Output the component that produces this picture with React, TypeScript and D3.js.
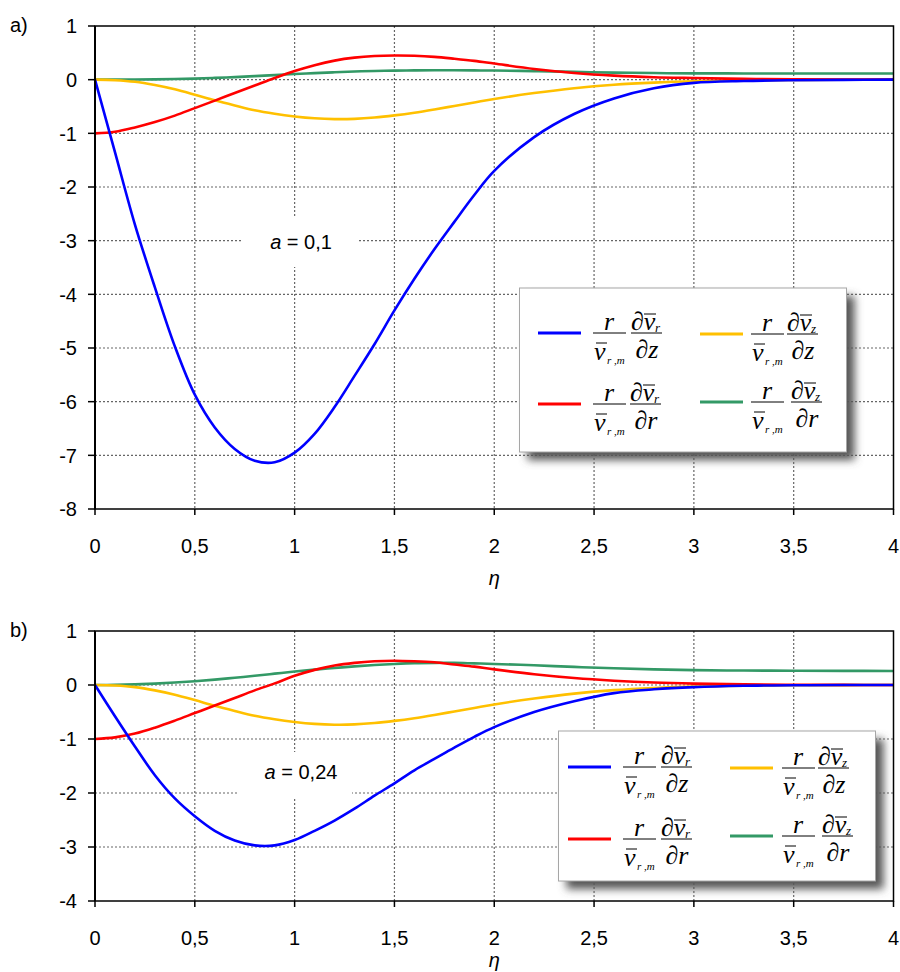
import React from 'react';
import * as d3 from 'd3';

// η sampling points shared by all curves
const ETA = [0, 0.1, 0.2, 0.3, 0.4, 0.5, 0.6, 0.7, 0.8, 0.9, 1.0, 1.1, 1.2, 1.3, 1.4, 1.5, 1.6, 1.7, 1.8, 1.9, 2.0,
  2.2, 2.4, 2.6, 2.8, 3.0, 3.25, 3.5, 3.75, 4.0];

// panel a) a = 0,1
const blueA = [0, -1.35, -2.7, -3.87, -4.97, -5.87, -6.48, -6.88, -7.1, -7.13, -6.95, -6.6, -6.1, -5.52, -4.93, -4.3,
  -3.71, -3.16, -2.65, -2.15, -1.7, -1.07, -0.64, -0.35, -0.16, -0.06, -0.025, -0.01, -0.003, 0];
const redA = [-1, -0.97, -0.89, -0.79, -0.67, -0.53, -0.39, -0.25, -0.11, 0.03, 0.16, 0.27, 0.355, 0.41, 0.44, 0.45,
  0.445, 0.425, 0.39, 0.35, 0.3, 0.2, 0.125, 0.075, 0.045, 0.03, 0.015, 0.008, 0.003, 0];
const yellowA = [0, -0.01, -0.04, -0.1, -0.18, -0.28, -0.385, -0.48, -0.57, -0.635, -0.685, -0.72, -0.735, -0.73, -0.705,
  -0.665, -0.615, -0.555, -0.49, -0.425, -0.36, -0.25, -0.16, -0.095, -0.055, -0.03, -0.015, -0.006, -0.002, 0];
const greenA = [0, 0, 0.002, 0.006, 0.012, 0.02, 0.033, 0.048, 0.066, 0.085, 0.105, 0.122, 0.138, 0.152, 0.162, 0.169,
  0.173, 0.175, 0.175, 0.173, 0.17, 0.16, 0.145, 0.132, 0.123, 0.118, 0.116, 0.115, 0.115, 0.115];

// panel b) a = 0,24
const blueB = [0, -0.58, -1.14, -1.67, -2.1, -2.43, -2.7, -2.88, -2.97, -2.97, -2.87, -2.7, -2.51, -2.29, -2.05, -1.82,
  -1.58, -1.37, -1.16, -0.96, -0.78, -0.5, -0.3, -0.15, -0.08, -0.04, -0.015, -0.005, -0.001, 0];
const redB = [-1, -0.97, -0.9, -0.79, -0.66, -0.52, -0.38, -0.24, -0.1, 0.03, 0.17, 0.28, 0.36, 0.41, 0.44, 0.45,
  0.44, 0.42, 0.38, 0.34, 0.29, 0.2, 0.13, 0.08, 0.045, 0.025, 0.012, 0.005, 0.002, 0];
const yellowB = [0, -0.01, -0.04, -0.1, -0.18, -0.28, -0.385, -0.48, -0.57, -0.635, -0.685, -0.72, -0.735, -0.73, -0.705,
  -0.665, -0.615, -0.555, -0.49, -0.425, -0.36, -0.25, -0.16, -0.095, -0.055, -0.03, -0.015, -0.006, -0.002, 0];
const greenB = [0, 0.003, 0.012, 0.025, 0.045, 0.07, 0.1, 0.135, 0.17, 0.21, 0.25, 0.285, 0.315, 0.345, 0.37, 0.39,
  0.405, 0.41, 0.41, 0.4, 0.39, 0.365, 0.335, 0.31, 0.29, 0.275, 0.268, 0.264, 0.262, 0.26];

const X_TICKS = [0, 0.5, 1, 1.5, 2, 2.5, 3, 3.5, 4];
const COLORS = { blue: '#0000ff', red: '#ff0000', yellow: '#ffc000', green: '#339966' };

const SANS = 'Liberation Sans, Arial, sans-serif';
const SERIF = 'Liberation Serif, Times New Roman, serif';
const MATH = 26;

const fmt = (v: number) => String(v).replace('.', ',');

// r / v̄_{r,m}
const FracR = ({ x, y }: { x: number; y: number }) => (
  <g>
    <line x1={x} x2={x + 33} y1={y} y2={y} stroke="#000" strokeWidth={1} />
    <text x={x + 16} y={y - 3} fontFamily={SERIF} fontStyle="italic" fontSize={MATH} textAnchor="middle">r</text>
    <line x1={x + 3} x2={x + 14} y1={y + 10} y2={y + 10} stroke="#000" strokeWidth={1} />
    <text x={x + 1} y={y + 27} fontFamily={SERIF} fontStyle="italic" fontSize={MATH}>v</text>
    <text x={x + 14} y={y + 31} fontFamily={SERIF} fontStyle="italic" fontSize={11}>r ,m</text>
  </g>
);

// ∂v̄_comp / ∂den
const FracD = ({ x, y, comp, den }: { x: number; y: number; comp: string; den: string }) => (
  <g>
    <line x1={x} x2={x + 31} y1={y} y2={y} stroke="#000" strokeWidth={1} />
    <text x={x} y={y - 3} fontFamily={SERIF} fontStyle="italic" fontSize={MATH}>∂v</text>
    <line x1={x + 13} x2={x + 25} y1={y - 19} y2={y - 19} stroke="#000" strokeWidth={1} />
    <text x={x + 24} y={y - 1} fontFamily={SERIF} fontStyle="italic" fontSize={13}>{comp}</text>
    <text x={x + 16} y={y + 25} fontFamily={SERIF} fontStyle="italic" fontSize={MATH} textAnchor="middle">∂{den}</text>
  </g>
);

type Item = { color: string; lx: number; y: number; f1: number; f2: number; comp: string; den: string };

const Legend = ({ box, items }: { box: number[]; items: Item[] }) => (
  <g>
    <rect x={box[0] + 8} y={box[1] + 8} width={box[2]} height={box[3]} fill="#555" filter="url(#legShadow)" />
    <rect x={box[0]} y={box[1]} width={box[2]} height={box[3]} fill="#fff" stroke="#a6a6a6" strokeWidth={1} />
    {items.map((it, i) => (
      <g key={i}>
        <line x1={it.lx} x2={it.lx + 43} y1={it.y} y2={it.y} stroke={it.color} strokeWidth={3} />
        <FracR x={it.f1} y={it.y} />
        <FracD x={it.f2} y={it.y} comp={it.comp} den={it.den} />
      </g>
    ))}
  </g>
);

type PanelProps = {
  tag: string; top: number; bottom: number; yMin: number; etaY: number;
  series: { color: string; values: number[] }[];
  note: string; noteY: number; noteBox: number[];
  legendBox: number[]; legendItems: Item[];
};

const Panel = ({ tag, top, bottom, yMin, etaY, series, note, noteY, noteBox, legendBox, legendItems }: PanelProps) => {
  const x = d3.scaleLinear().domain([0, 4]).range([95, 893.5]);
  const y = d3.scaleLinear().domain([yMin, 1]).range([bottom, top]);
  const yTicks = d3.range(yMin, 2);
  const line = d3.line<number>().x((_, i) => x(ETA[i])).y(d => y(d)).curve(d3.curveCatmullRom.alpha(0.5));
  return (
    <g>
      <text x={10} y={top + 6} fontFamily={SANS} fontSize={20}>{tag}</text>
      {/* dotted grid */}
      {yTicks.filter(t => t > yMin && t < 1).map(t => (
        <line key={'h' + t} x1={x(0)} x2={x(4)} y1={y(t)} y2={y(t)} stroke="#666" strokeWidth={1.2} strokeDasharray="2 2" />
      ))}
      {X_TICKS.filter(t => t > 0 && t < 4).map(t => (
        <line key={'v' + t} x1={x(t)} x2={x(t)} y1={y(1)} y2={y(yMin)} stroke="#666" strokeWidth={1.2} strokeDasharray="2 2" />
      ))}
      <rect x={noteBox[0]} y={noteBox[1]} width={noteBox[2]} height={noteBox[3]} fill="#fff" />
      <text x={301} y={noteY} fontFamily={SANS} fontSize={20} textAnchor="middle">
        <tspan fontStyle="italic">a</tspan> = {note}
      </text>
      {series.map((s, i) => (
        <path key={i} d={line(s.values) || ''} fill="none" stroke={s.color} strokeWidth={2.6} />
      ))}
      {/* frame and axes */}
      <rect x={x(0)} y={y(1)} width={x(4) - x(0)} height={y(yMin) - y(1)} fill="none" stroke="#000" strokeWidth={1.5} />
      <line x1={x(0)} x2={x(0)} y1={y(1)} y2={y(yMin)} stroke="#000" strokeWidth={2} />
      {yTicks.map(t => (
        <g key={'yt' + t}>
          <line x1={x(0) - 7} x2={x(0)} y1={y(t)} y2={y(t)} stroke="#000" strokeWidth={1.5} />
          <text x={77} y={y(t)} dy="0.36em" fontFamily={SANS} fontSize={20} textAnchor="end">{fmt(t)}</text>
        </g>
      ))}
      {X_TICKS.map(t => (
        <g key={'xt' + t}>
          <line x1={x(t)} x2={x(t)} y1={y(yMin)} y2={y(yMin) + 6} stroke="#000" strokeWidth={1.5} />
          <text x={x(t)} y={y(yMin) + 44} fontFamily={SANS} fontSize={20} textAnchor="middle">{fmt(t)}</text>
        </g>
      ))}
      <text x={x(2)} y={etaY} fontFamily={SANS} fontStyle="italic" fontSize={20} textAnchor="middle">η</text>
      <Legend box={legendBox} items={legendItems} />
    </g>
  );
};

const itemsA: Item[] = [
  { color: COLORS.blue, lx: 538, y: 333, f1: 593, f2: 631, comp: 'r', den: 'z' },
  { color: COLORS.yellow, lx: 700, y: 334, f1: 751, f2: 787, comp: 'z', den: 'z' },
  { color: COLORS.red, lx: 538, y: 404, f1: 593, f2: 630, comp: 'r', den: 'r' },
  { color: COLORS.green, lx: 700, y: 402, f1: 751, f2: 791, comp: 'z', den: 'r' },
];
const itemsB: Item[] = [
  { color: COLORS.blue, lx: 568, y: 767, f1: 623, f2: 661, comp: 'r', den: 'z' },
  { color: COLORS.yellow, lx: 730, y: 768, f1: 782, f2: 818, comp: 'z', den: 'z' },
  { color: COLORS.red, lx: 568, y: 839, f1: 623, f2: 661, comp: 'r', den: 'r' },
  { color: COLORS.green, lx: 730, y: 836, f1: 782, f2: 822, comp: 'z', den: 'r' },
];

export default function App() {
  return (
    <div style={{ position: 'absolute', left: 0, top: 0 }}>
      <svg width={900} height={972} style={{ display: 'block', background: '#fff' }}>
        <defs>
          <filter id="legShadow" x="-20%" y="-20%" width="140%" height="140%">
            <feGaussianBlur stdDeviation="4" />
          </filter>
        </defs>
        <Panel
          tag="a)" top={26} bottom={509} yMin={-8} etaY={585}
          series={[
            { color: COLORS.green, values: greenA },
            { color: COLORS.yellow, values: yellowA },
            { color: COLORS.red, values: redA },
            { color: COLORS.blue, values: blueA },
          ]}
          note="0,1" noteY={249} noteBox={[242, 218, 115, 49]}
          legendBox={[519.5, 288, 327, 164]} legendItems={itemsA}
        />
        <Panel
          tag="b)" top={631} bottom={901} yMin={-4} etaY={967}
          series={[
            { color: COLORS.green, values: greenB },
            { color: COLORS.yellow, values: yellowB },
            { color: COLORS.red, values: redB },
            { color: COLORS.blue, values: blueB },
          ]}
          note="0,24" noteY={779} noteBox={[237, 752, 115, 45]}
          legendBox={[558.5, 731, 317, 150]} legendItems={itemsB}
        />
      </svg>
    </div>
  );
}
